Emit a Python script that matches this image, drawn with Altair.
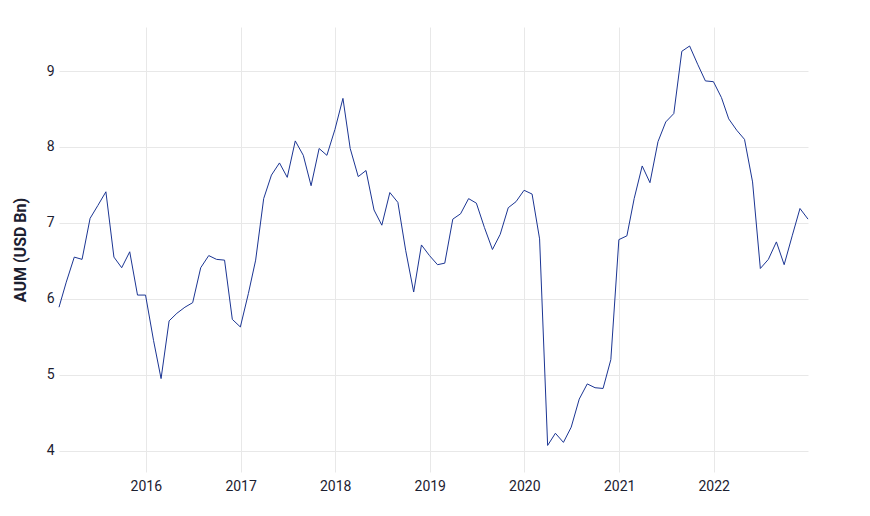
import altair as alt
import pandas as pd

months = pd.date_range("2015-01-31", "2022-12-31", freq="ME").strftime("%Y-%m-%dT00:00:00").tolist()

aum = [
    5.89, 6.22, 6.55, 6.52, 7.06, 7.23, 7.41, 6.55, 6.41, 6.62, 6.05, 6.05,
    5.45, 4.95, 5.71, 5.81, 5.89, 5.95, 6.41, 6.57, 6.52, 6.51, 5.73, 5.63,
    6.07, 6.51, 7.32, 7.63, 7.79, 7.60, 8.08, 7.89, 7.49, 7.98, 7.89, 8.23,
    8.64, 7.98, 7.61, 7.69, 7.17, 6.97, 7.40, 7.27, 6.64, 6.09, 6.71, 6.57,
    6.45, 6.47, 7.05, 7.12, 7.32, 7.26, 6.94, 6.65, 6.85, 7.20, 7.28, 7.43,
    7.38, 6.79, 4.07, 4.23, 4.11, 4.31, 4.68, 4.88, 4.83, 4.82, 5.20, 6.78,
    6.83, 7.32, 7.75, 7.53, 8.07, 8.33, 8.44, 9.26, 9.33, 9.09, 8.87, 8.86,
    8.65, 8.37, 8.22, 8.10, 7.54, 6.40, 6.52, 6.75, 6.45, 6.83, 7.19, 7.05,
]

years = [2016, 2017, 2018, 2019, 2020, 2021, 2022]

df = pd.DataFrame({"date": months, "aum": aum})

chart = alt.Chart(df).mark_line(color="#1b3593", strokeWidth=1).encode(
    x=alt.X(
        "date:T",
        title=None,
        scale=alt.Scale(domain=[alt.DateTime(year=2015, month=1, date=31),
                                alt.DateTime(year=2022, month=12, date=31)]),
        axis=alt.Axis(
            values=[alt.DateTime(year=y, month=1, date=1) for y in years],
            format="%Y",
            labelPadding=7,
        ),
    ),
    y=alt.Y(
        "aum:Q",
        title="AUM (USD Bn)",
        scale=alt.Scale(domain=[3.72, 9.58], nice=False, zero=False),
        axis=alt.Axis(values=[4, 5, 6, 7, 8, 9], labelPadding=5, titlePadding=18),
    ),
).properties(
    width=749,
    height=445,
    autosize=alt.AutoSizeParams(type="none"),
    padding={"left": 51, "top": 19, "right": 40, "bottom": 40},
).configure_view(
    stroke=None
).configure_axis(
    domain=False,
    ticks=False,
    grid=True,
    gridColor="#e8e8e8",
    gridWidth=1,
    labelFont="Roboto",
    labelFontSize=14,
    labelColor="#1c2030",
    titleFont="Roboto",
    titleFontSize=16,
    titleFontWeight="bold",
    titleColor="#1c2030",
)

chart.save("out.html", embed_options={"renderer": "svg", "actions": False})
